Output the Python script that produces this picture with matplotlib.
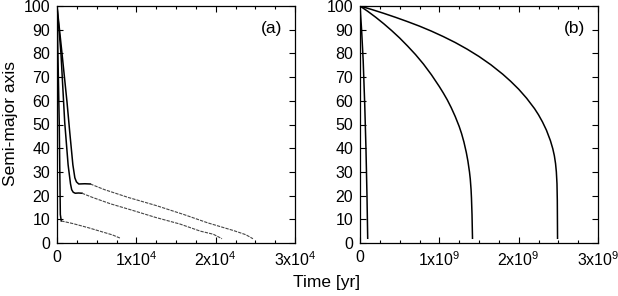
import matplotlib
matplotlib.use("Agg")
import matplotlib.pyplot as plt
from matplotlib.ticker import MultipleLocator, FixedLocator, FixedFormatter

plt.rcParams['font.family'] = ['Liberation Sans', 'DejaVu Sans']
plt.rcParams['mathtext.fontset'] = 'custom'
plt.rcParams['mathtext.rm'] = 'Liberation Sans'
plt.rcParams['mathtext.default'] = 'rm'

# panel (a): steep solid part, then slow tail (yr, semi-major axis)
a1_t = [0, 280, 420, 540]
a1_a = [100, 51, 12, 9.3]
a1_tail_t = [540, 2000, 4000, 5600, 7000, 8000]
a1_tail_a = [9.3, 8.2, 6.4, 4.8, 3.4, 2.0]

a2_t = [0, 500, 970, 1400, 1700, 1850, 2050, 2300, 2700, 3150]
a2_a = [100, 80, 51, 33, 25, 22.5, 21.4, 21, 21.1, 21]
a2_tail_t = [3150, 4500, 6775, 9500, 12420, 15500, 18070, 19700, 20800]
a2_tail_a = [21, 19.2, 16.5, 13.8, 10.8, 8.0, 5.0, 3.7, 1.8]

a3_t = [0, 630, 1260, 1600, 2000, 2250, 2450, 2740, 3500, 4200]
a3_a = [100, 80, 59.5, 47, 33, 27.5, 25.8, 24.9, 25.0, 24.9]
a3_tail_t = [4200, 6000, 9000, 12500, 16000, 19000, 22300, 23800, 24700]
a3_tail_a = [24.9, 22.5, 19.2, 15.8, 12.0, 8.5, 5.2, 3.5, 1.8]

# panel (b)
b1_t = [0, 0.02e9, 0.04e9, 0.06e9, 0.075e9, 0.088e9, 0.095e9, 0.097e9]
b1_a = [100, 90, 77, 58, 40, 20, 6, 2]

b2_t = [0, 0.1e9, 0.2e9, 0.3e9, 0.4e9, 0.5e9, 0.6e9, 0.7e9, 0.8e9, 0.9e9,
        1.0e9, 1.05e9, 1.1e9, 1.15e9, 1.2e9, 1.25e9, 1.28e9, 1.31e9,
        1.34e9, 1.36e9, 1.38e9, 1.39e9, 1.40e9, 1.405e9, 1.412e9, 1.418e9]
b2_a = [100, 97.7, 95.2, 92.5, 89.6, 86.5, 83.1, 79.5, 75.5, 71.0,
        66.0, 63.3, 60.4, 57.1, 53.4, 49.2, 46.2, 42.6,
        38.2, 34.6, 30, 27, 22.5, 19, 12, 2]

b3_t = [0, 0.15e9, 0.3e9, 0.45e9, 0.6e9, 0.75e9, 0.9e9, 1.05e9, 1.2e9,
        1.35e9, 1.5e9, 1.65e9, 1.8e9, 1.9e9, 2.0e9, 2.1e9, 2.2e9, 2.25e9,
        2.3e9, 2.35e9, 2.4e9, 2.43e9, 2.45e9, 2.465e9, 2.475e9, 2.483e9,
        2.487e9, 2.49e9]
b3_a = [100, 98.5, 96.9, 95.2, 93.4, 91.5, 89.4, 87.1, 84.6,
        81.8, 78.7, 75.2, 71.2, 68.2, 64.9, 61.1, 56.7, 54.1,
        51.1, 47.6, 43.2, 39.8, 36.8, 33.5, 30, 25,
        18, 2]

fig = plt.figure(figsize=(6.18, 2.96), dpi=100)
W, H = 618, 296
ax_a = fig.add_axes([57 / W, 1 - 243 / H, 238 / W, 237 / H])
ax_b = fig.add_axes([360 / W, 1 - 243 / H, 238 / W, 237 / H])

solid = dict(color='black', lw=1.1)
tail = dict(color='#444444', lw=0.8, ls=(0, (3, 1)))

ax_a.plot(a1_t, a1_a, **solid)
ax_a.plot(a1_tail_t, a1_tail_a, **tail)
ax_a.plot(a2_t, a2_a, **solid)
ax_a.plot(a2_tail_t, a2_tail_a, **tail)
ax_a.plot(a3_t, a3_a, **solid)
ax_a.plot(a3_tail_t, a3_tail_a, **tail)

ax_b.plot(b1_t, b1_a, **solid)
ax_b.plot(b2_t, b2_a, **solid)
ax_b.plot(b3_t, b3_a, **solid)

for ax, unit, exp, lab in [(ax_a, 1e4, 4, '(a)'), (ax_b, 1e9, 9, '(b)')]:
    ax.set_xlim(0, 3 * unit)
    ax.set_ylim(0, 100)
    ax.xaxis.set_major_locator(FixedLocator([0, unit, 2 * unit, 3 * unit]))
    ax.xaxis.set_major_formatter(FixedFormatter(
        ['0'] + ['%dx10$^{%d}$' % (k, exp) for k in (1, 2, 3)]))
    ax.xaxis.set_minor_locator(MultipleLocator(unit / 4))
    ax.yaxis.set_major_locator(MultipleLocator(10))
    ax.tick_params(which='both', direction='in', top=True, right=True,
                   labelsize=11.5, width=0.8)
    ax.tick_params(which='major', length=4.5, pad=5)
    ax.tick_params(which='minor', length=2.2)
    for s in ax.spines.values():
        s.set_linewidth(0.9)
    ax.text(0.9, 0.905, lab, transform=ax.transAxes, ha='center', va='center',
            fontsize=12.5)

fig.text(11 / W, 1 - 124 / H, 'Semi-major axis', rotation=90,
         ha='center', va='center', fontsize=12.5)
fig.text(327 / W, 1 - 282 / H, 'Time [yr]', ha='center', va='center',
         fontsize=12.5)

fig.savefig('out.png', dpi=100)
